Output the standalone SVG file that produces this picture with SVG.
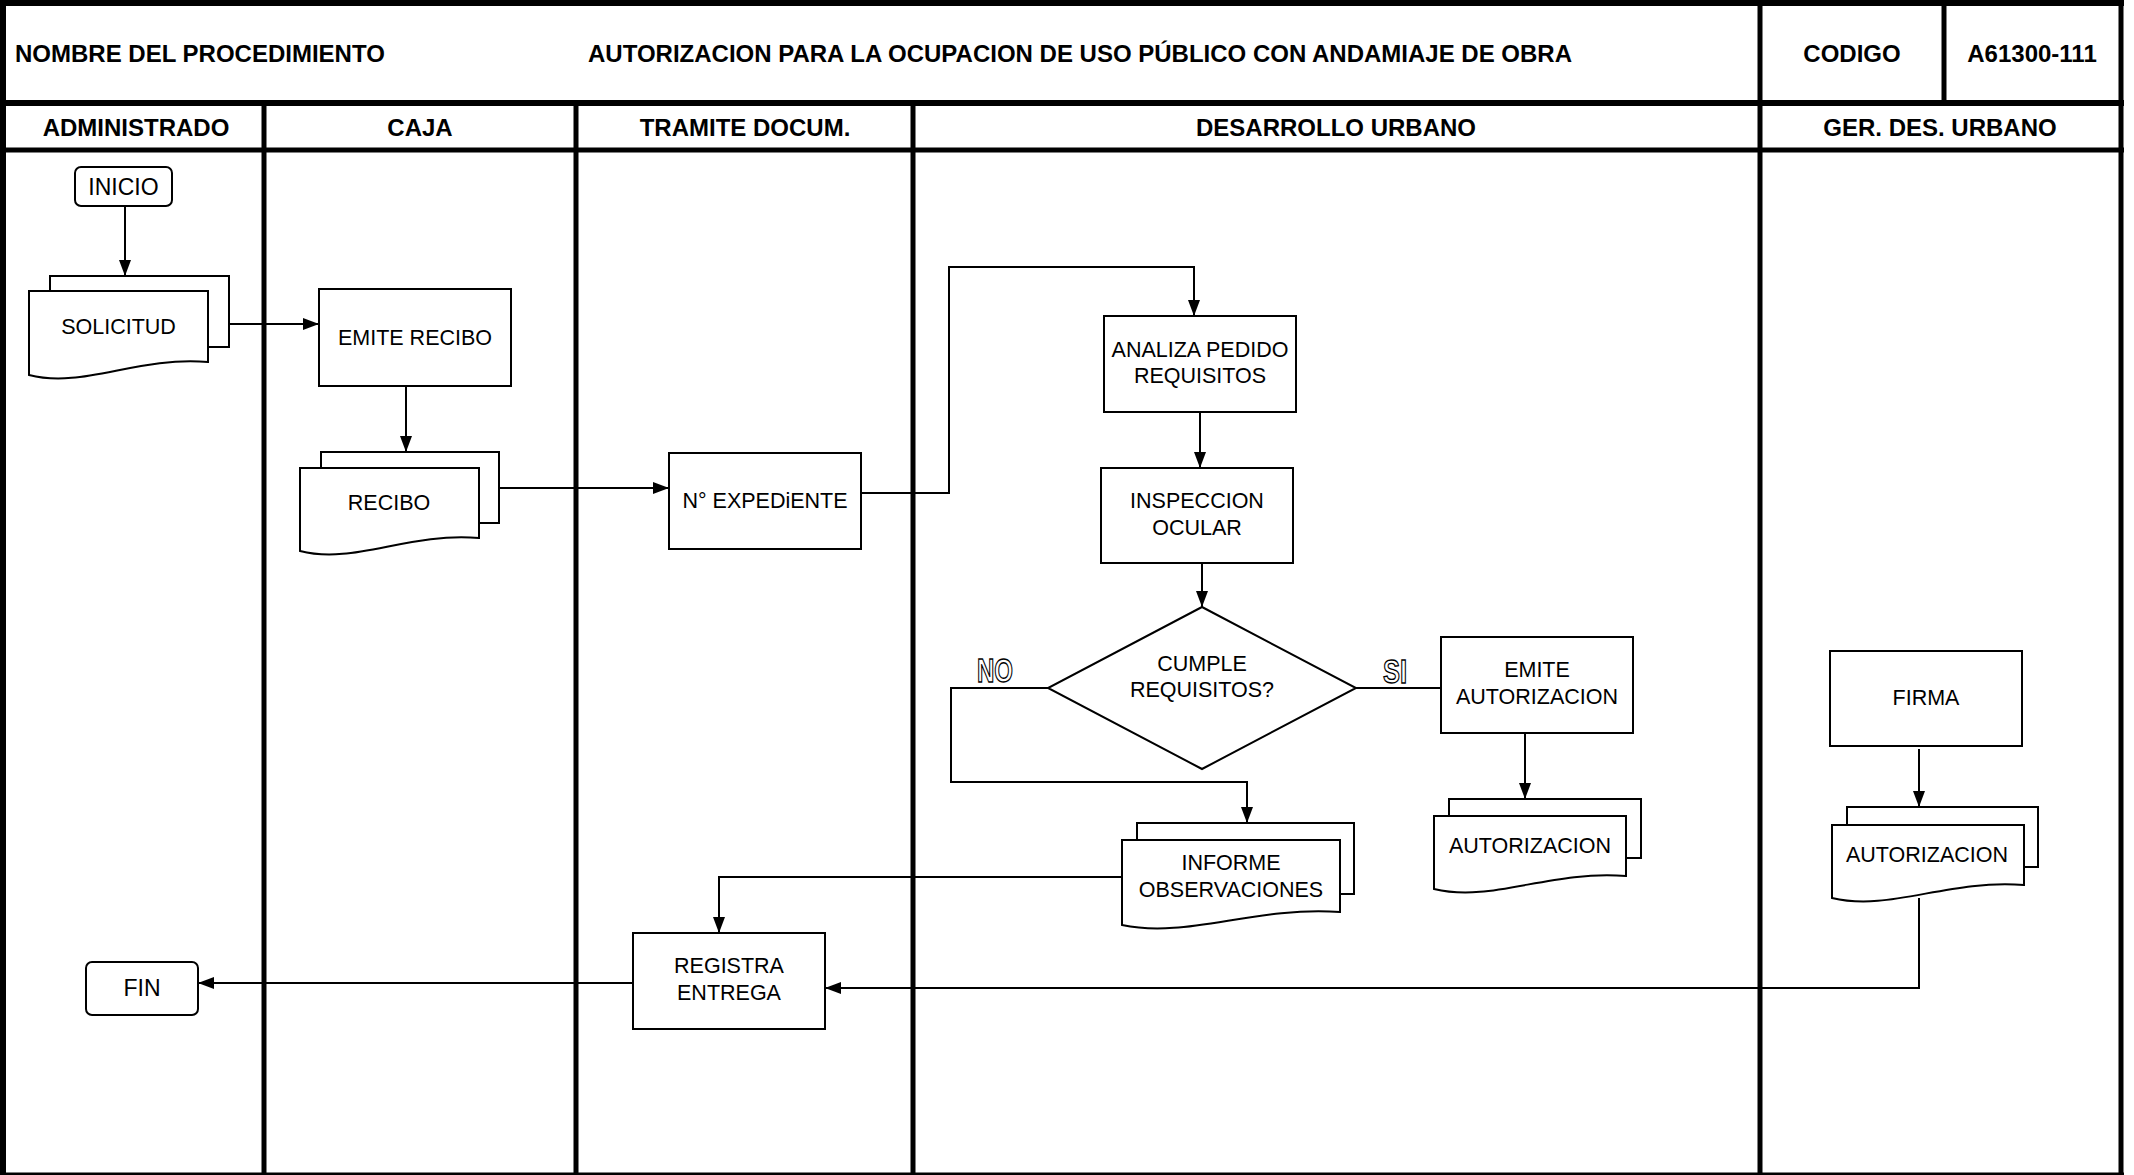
<svg xmlns="http://www.w3.org/2000/svg" width="2134" height="1175" viewBox="0 0 2134 1175">
<style>
.frame{stroke:#000;stroke-width:5;fill:none}
.node{fill:#fff;stroke:#000;stroke-width:2}
.back{fill:#fff;stroke:#000;stroke-width:2}
.c{fill:none;stroke:#000;stroke-width:2}
.t{font-family:"Liberation Sans",Arial,sans-serif;font-size:21.5px;text-anchor:middle;fill:#000}
.term{font-size:23px}
.h{font-family:"Liberation Sans",Arial,sans-serif;font-size:24px;font-weight:bold;fill:#000}
.lbl{font-family:"Liberation Sans",Arial,sans-serif;font-size:34px;font-weight:bold;fill:#fff;stroke:#000;stroke-width:1.4}
</style>
<defs>
<marker id="ah" markerUnits="userSpaceOnUse" markerWidth="17" markerHeight="13" refX="16" refY="6" orient="auto">
<path d="M0,0 L16,6 L0,12 Z" fill="#000"/>
</marker>
</defs>
<rect width="2134" height="1175" fill="#fff"/>
<g id="frame">
<line class="frame" x1="0" y1="3" x2="2124" y2="3" style="stroke-width:6"/>
<line class="frame" x1="3" y1="0" x2="3" y2="1175" style="stroke-width:6"/>
<line class="frame" x1="2121" y1="0" x2="2121" y2="1175"/>
<line class="frame" x1="0" y1="1174" x2="2124" y2="1174" style="stroke-width:3"/>
<line class="frame" x1="0" y1="103" x2="2124" y2="103" style="stroke-width:6"/>
<line class="frame" x1="0" y1="150" x2="2124" y2="150"/>
<line class="frame" x1="1760" y1="3" x2="1760" y2="1175"/>
<line class="frame" x1="1944" y1="3" x2="1944" y2="103"/>
<line class="frame" x1="264" y1="103" x2="264" y2="1175"/>
<line class="frame" x1="576" y1="103" x2="576" y2="1175"/>
<line class="frame" x1="913" y1="103" x2="913" y2="1175"/>
<text class="h" x="15" y="62">NOMBRE DEL PROCEDIMIENTO</text>
<text class="h" x="588" y="62">AUTORIZACION PARA LA OCUPACION DE USO PÚBLICO CON ANDAMIAJE DE OBRA</text>
<text class="h" x="1852" y="62" text-anchor="middle">CODIGO</text>
<text class="h" x="2032" y="62" text-anchor="middle">A61300-111</text>
<text class="h" x="136" y="136" text-anchor="middle">ADMINISTRADO</text>
<text class="h" x="420" y="136" text-anchor="middle">CAJA</text>
<text class="h" x="745" y="136" text-anchor="middle">TRAMITE DOCUM.</text>
<text class="h" x="1336" y="136" text-anchor="middle">DESARROLLO URBANO</text>
<text class="h" x="1940" y="136" text-anchor="middle">GER. DES. URBANO</text>
</g>
<g id="connectors">
<path class="c" d="M125,206 V276" marker-end="url(#ah)"/>
<path class="c" d="M229,324 H319" marker-end="url(#ah)"/>
<path class="c" d="M406,386 V452" marker-end="url(#ah)"/>
<path class="c" d="M499,488 H669" marker-end="url(#ah)"/>
<path class="c" d="M861,493 H949 V267 H1194 V316" marker-end="url(#ah)"/>
<path class="c" d="M1200,412 V468" marker-end="url(#ah)"/>
<path class="c" d="M1202,563 V607" marker-end="url(#ah)"/>
<path class="c" d="M1048,688 H951 V782 H1247 V823" marker-end="url(#ah)"/>
<path class="c" d="M1356,688 H1441"/>
<path class="c" d="M1525,733 V799" marker-end="url(#ah)"/>
<path class="c" d="M1122,877 H719 V933" marker-end="url(#ah)"/>
<path class="c" d="M1919,749 V807" marker-end="url(#ah)"/>
<path class="c" d="M1919,898 V988 H825" marker-end="url(#ah)"/>
<path class="c" d="M633,983 H198" marker-end="url(#ah)"/>
<text class="lbl" x="977" y="682" textLength="36" lengthAdjust="spacingAndGlyphs">NO</text>
<text class="lbl" x="1383" y="683" textLength="24" lengthAdjust="spacingAndGlyphs">SI</text>
</g>
<g id="inicio">
<rect class="node" x="75" y="167" width="97" height="39" rx="6"/>
<text class="t term" x="123.5" y="195">INICIO</text>
</g>
<g id="solicitud">
<path class="back" d="M50,291 V276 H229 V347 H208"/>
<path class="node" d="M29,291 H208 V362 C136,356 83,389 29,375 Z"/>
<text class="t" x="118.5" y="334">SOLICITUD</text>
</g>
<g id="emite-recibo">
<rect class="node" x="319" y="289" width="192" height="97"/>
<text class="t" x="415" y="345">EMITE RECIBO</text>
</g>
<g id="recibo">
<path class="back" d="M321,468 V452 H499 V523 H479"/>
<path class="node" d="M300,468 H479 V538 C407,532 354,565 300,551 Z"/>
<text class="t" x="389" y="510">RECIBO</text>
</g>
<g id="expediente">
<rect class="node" x="669" y="453" width="192" height="96"/>
<text class="t" x="765" y="508">N° EXPEDiENTE</text>
</g>
<g id="analiza">
<rect class="node" x="1104" y="316" width="192" height="96"/>
<text class="t" x="1200" y="357">ANALIZA PEDIDO</text>
<text class="t" x="1200" y="383">REQUISITOS</text>
</g>
<g id="inspeccion">
<rect class="node" x="1101" y="468" width="192" height="95"/>
<text class="t" x="1197" y="508">INSPECCION</text>
<text class="t" x="1197" y="535">OCULAR</text>
</g>
<g id="cumple">
<polygon class="node" points="1202,607 1356,688 1202,769 1048,688"/>
<text class="t" x="1202" y="671">CUMPLE</text>
<text class="t" x="1202" y="697">REQUISITOS?</text>
</g>
<g id="emite-autorizacion">
<rect class="node" x="1441" y="637" width="192" height="96"/>
<text class="t" x="1537" y="677">EMITE</text>
<text class="t" x="1537" y="704">AUTORIZACION</text>
</g>
<g id="autorizacion-du">
<path class="back" d="M1449,816 V799 H1641 V858 H1626"/>
<path class="node" d="M1434,816 H1626 V876 C1549,870 1492,903 1434,889 Z"/>
<text class="t" x="1530" y="853">AUTORIZACION</text>
</g>
<g id="informe">
<path class="back" d="M1137,840 V823 H1354 V894 H1340"/>
<path class="node" d="M1122,840 H1340 V912 C1253,906 1187,939 1122,925 Z"/>
<text class="t" x="1231" y="870">INFORME</text>
<text class="t" x="1231" y="897">OBSERVACIONES</text>
</g>
<g id="firma">
<rect class="node" x="1830" y="651" width="192" height="95"/>
<text class="t" x="1926" y="705">FIRMA</text>
</g>
<g id="autorizacion-ger">
<path class="back" d="M1847,825 V807 H2038 V867 H2024"/>
<path class="node" d="M1832,825 H2024 V885 C1947,879 1890,912 1832,898 Z"/>
<text class="t" x="1927" y="862">AUTORIZACION</text>
</g>
<g id="registra">
<rect class="node" x="633" y="933" width="192" height="96"/>
<text class="t" x="729" y="973">REGISTRA</text>
<text class="t" x="729" y="1000">ENTREGA</text>
</g>
<g id="fin">
<rect class="node" x="86" y="962" width="112" height="53" rx="6"/>
<text class="t term" x="142" y="996">FIN</text>
</g>
</svg>
